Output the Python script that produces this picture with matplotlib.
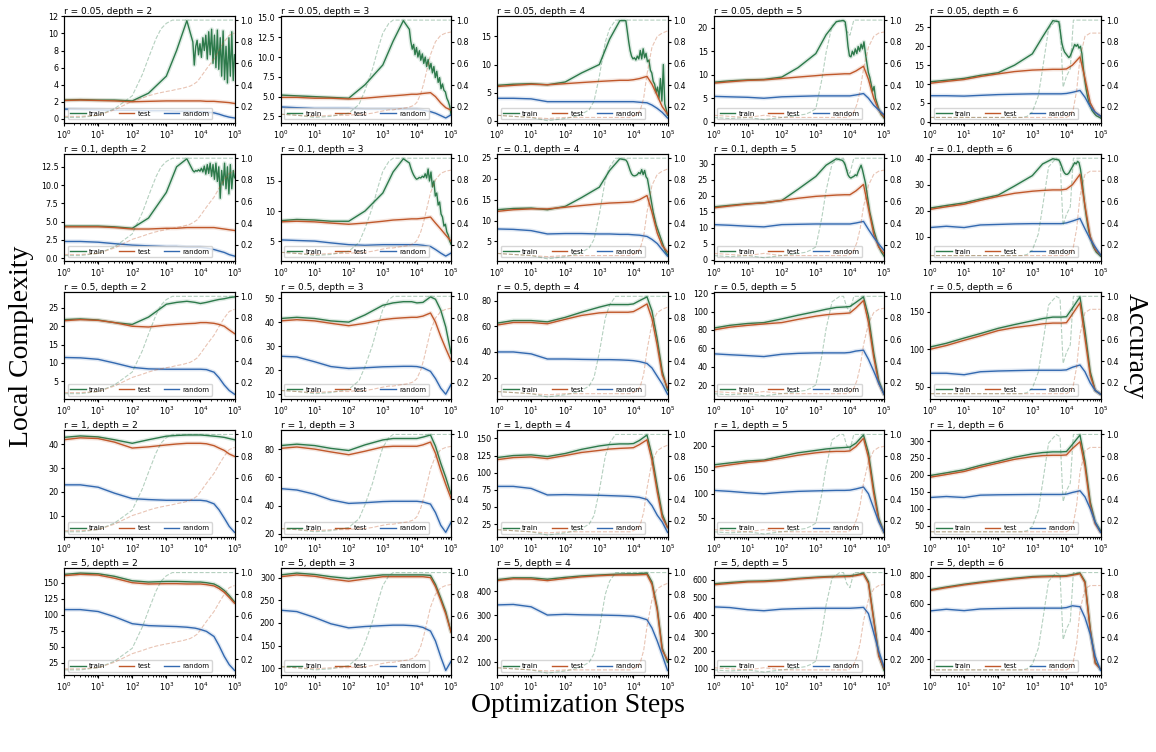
import matplotlib
matplotlib.use('Agg')
import matplotlib.pyplot as plt
from matplotlib.ticker import MultipleLocator

# optimization steps where the local complexity curves are sampled
STEPS = [1, 3, 10, 30, 100, 300, 1000, 2000, 4000, 7000, 10000, 15000,
         25000, 35000, 50000, 70000, 100000]
# denser steps for the noisy tail of the train curve (small r)
TAIL_STEPS = [6000, 6600, 7300, 8000, 8800, 9700, 10700, 11800, 13000, 14400,
              15900, 17500, 19300, 21300, 23400, 25800, 28500, 31400, 34600,
              38100, 42000, 46300, 51000, 56300, 62000, 68400, 75400, 83100,
              91600, 100000]
# steps for the accuracy curves
ACC_STEPS = [1, 3, 10, 30, 100, 200, 300, 500, 700, 1000, 1500, 2000, 3000,
             5000, 6500, 8000, 10000, 13000, 16000, 20000, 25000, 35000,
             50000, 70000, 100000]

R_LABELS = ['0.05', '0.1', '0.5', '1', '5']
DEPTHS = [2, 3, 4, 5, 6]

# left axis tick spacing, one row per r, one entry per depth
Y_TICK_STEP = [
    [2, 2.5, 5, 5, 5],
    [2.5, 5, 5, 5, 10],
    [5, 10, 20, 20, 50],
    [10, 20, 25, 50, 50],
    [25, 50, 100, 100, 200],
]

# ---- r = 0.05 (one list per depth 2..6)
TRAIN_R005 = [
    [2.2, 2.25, 2.2, 2.2, 2.1, 3.0, 5.0, 8.0, 11.5, 8.5, 8.5, 8.5, 8.0, 8.0, 7.5, 7.5, 7.5],
    [5.2, 5.1, 5.0, 4.9, 4.8, 6.5, 9.0, 12.0, 14.6, 12.0, 10.5, 10.0, 9.0, 8.5, 7.5, 6.0, 2.8],
    [6.3, 6.5, 6.6, 6.4, 6.9, 8.5, 10.0, 14.5, 17.8, 14.0, 11.5, 11.5, 11.0, 8.5, 5.5, 4.0, 1.0],
    [8.4, 8.7, 8.9, 9.0, 9.5, 11.5, 14.5, 18.5, 21.3, 21.0, 14.0, 15.0, 16.5, 10.5, 6.5, 3.0, 0.8],
    [10.6, 11.0, 11.5, 12.3, 13.0, 15.0, 18.0, 22.5, 26.8, 20.0, 17.5, 19.5, 20.0, 11.0, 4.0, 2.0, 1.0],
]
TEST_R005 = [
    [2.15, 2.2, 2.15, 2.1, 2.0, 2.05, 2.1, 2.1, 2.1, 2.1, 2.1, 2.05, 2.05, 2.0, 1.95, 1.9, 1.8],
    [4.9, 4.9, 4.8, 4.8, 4.7, 4.8, 5.0, 5.1, 5.2, 5.3, 5.3, 5.4, 5.5, 5.0, 4.2, 3.6, 3.3],
    [6.1, 6.3, 6.5, 6.4, 6.6, 6.8, 7.0, 7.1, 7.2, 7.2, 7.3, 7.5, 7.9, 6.5, 4.5, 2.5, 1.2],
    [8.2, 8.5, 8.8, 8.9, 9.2, 9.5, 9.8, 10.0, 10.1, 10.2, 10.2, 10.8, 11.8, 9.0, 5.0, 2.5, 1.0],
    [10.2, 10.7, 11.2, 12.0, 12.7, 13.3, 13.7, 13.8, 13.9, 13.9, 14.0, 15.0, 17.2, 11.5, 5.0, 2.5, 1.5],
]
RANDOM_R005 = [
    [1.15, 1.1, 1.05, 1.0, 1.0, 0.95, 0.95, 0.9, 0.9, 0.85, 0.85, 0.8, 0.7, 0.55, 0.35, 0.2, 0.1],
    [3.7, 3.6, 3.5, 3.5, 3.5, 3.4, 3.4, 3.4, 3.4, 3.4, 3.4, 3.3, 3.1, 2.9, 2.6, 2.3, 2.7],
    [4.0, 4.0, 3.9, 3.4, 3.4, 3.4, 3.4, 3.4, 3.4, 3.4, 3.4, 3.3, 3.2, 2.8, 2.2, 1.5, 0.5],
    [5.4, 5.3, 5.2, 5.0, 5.3, 5.4, 5.5, 5.5, 5.5, 5.5, 5.5, 5.7, 6.0, 5.0, 3.5, 2.5, 1.5],
    [6.9, 6.9, 6.8, 7.0, 7.2, 7.3, 7.4, 7.4, 7.4, 7.4, 7.5, 7.8, 8.3, 6.5, 4.0, 2.5, 1.5],
]
TAIL_R005 = [
    [9.0, 6.3, 8.5, 9.2, 7.5, 8.8, 7.2, 9.5, 8.0, 9.8, 7.0, 10.2, 7.5, 10.5, 6.5,
     9.8, 6.0, 10.4, 5.8, 9.5, 5.0, 10.3, 4.6, 8.5, 4.2, 9.5, 5.0, 10.2, 4.5, 7.5],
    [13.5, 12.0, 11.0, 11.6, 10.3, 11.2, 10.0, 10.8, 9.6, 10.4, 9.2, 10.0, 8.8, 9.7, 8.5,
     9.2, 8.0, 8.8, 7.4, 8.2, 6.8, 7.4, 6.0, 6.6, 5.8, 5.6, 4.8, 4.4, 3.8, 2.8],
    [17.8, 16.0, 14.0, 12.5, 11.5, 11.0, 11.2, 10.8, 11.5, 11.0, 12.5, 11.0, 12.8, 11.2, 12.0,
     10.5, 10.8, 9.0, 8.5, 7.0, 6.5, 5.0, 6.0, 4.0, 7.5, 3.5, 10.0, 3.0, 2.0, 1.0],
    [21.5, 21.5, 21.2, 19.0, 16.0, 14.0, 13.8, 15.0, 14.2, 15.5, 14.5, 16.0, 15.0, 16.5, 15.5,
     17.0, 14.5, 12.5, 10.5, 9.5, 8.0, 6.5, 7.5, 5.0, 4.0, 3.0, 2.2, 1.5, 1.2, 0.8],
    [26.5, 24.0, 21.0, 19.5, 18.5, 18.0, 17.5, 17.0, 17.5, 18.5, 19.5, 20.5, 20.0, 20.5, 19.5,
     20.0, 18.0, 14.0, 11.0, 8.5, 6.5, 5.0, 4.0, 3.0, 2.5, 2.0, 1.6, 1.4, 1.2, 1.0],
]

# ---- r = 0.1
TRAIN_R01 = [
    [4.4, 4.4, 4.4, 4.3, 4.1, 5.5, 9.0, 12.5, 13.6, 12.0, 12.0, 12.0, 12.0, 11.5, 11.0, 11.0, 11.0],
    [8.4, 8.6, 8.5, 8.3, 8.3, 10.0, 13.0, 16.5, 18.7, 16.5, 15.5, 15.5, 16.5, 14.0, 11.0, 7.5, 4.5],
    [12.6, 12.9, 13.0, 12.6, 13.4, 15.5, 18.0, 22.0, 24.8, 22.5, 20.8, 21.5, 20.5, 15.0, 9.0, 5.0, 2.0],
    [16.5, 17.0, 17.5, 17.8, 18.5, 22.0, 26.0, 29.5, 31.5, 28.0, 25.8, 27.0, 27.0, 18.0, 9.0, 4.0, 1.2],
    [21.0, 22.0, 23.0, 24.5, 26.0, 29.5, 33.5, 38.0, 40.0, 36.0, 34.0, 37.5, 37.5, 22.0, 10.0, 5.0, 2.5],
]
TEST_R01 = [
    [4.3, 4.3, 4.3, 4.2, 4.0, 4.0, 4.1, 4.1, 4.2, 4.2, 4.2, 4.2, 4.2, 4.1, 4.0, 3.9, 3.8],
    [8.2, 8.3, 8.2, 8.0, 7.8, 8.0, 8.3, 8.5, 8.6, 8.7, 8.7, 8.8, 9.0, 8.0, 7.0, 6.0, 5.0],
    [12.2, 12.6, 12.8, 12.8, 13.2, 13.6, 14.0, 14.2, 14.3, 14.4, 14.5, 15.0, 16.0, 12.0, 7.0, 4.0, 2.5],
    [16.2, 16.8, 17.4, 17.8, 18.5, 19.2, 19.8, 20.0, 20.2, 20.3, 20.3, 21.5, 23.5, 16.0, 8.0, 4.0, 2.0],
    [20.5, 21.5, 22.5, 24.0, 25.5, 26.7, 27.5, 27.8, 28.0, 28.0, 28.3, 30.0, 34.0, 22.0, 10.0, 5.0, 3.0],
]
RANDOM_R01 = [
    [2.3, 2.3, 2.2, 2.0, 1.8, 1.7, 1.6, 1.6, 1.5, 1.5, 1.5, 1.4, 1.2, 1.0, 0.8, 0.5, 0.3],
    [5.2, 5.1, 5.0, 4.7, 4.4, 4.3, 4.4, 4.4, 4.4, 4.4, 4.4, 4.3, 4.1, 3.6, 3.0, 2.5, 3.0],
    [8.0, 7.9, 7.6, 6.8, 6.9, 6.9, 6.8, 6.8, 6.7, 6.7, 6.6, 6.5, 6.2, 5.5, 4.5, 3.0, 1.5],
    [11.0, 10.8, 10.5, 10.3, 11.0, 11.1, 11.2, 11.2, 11.2, 11.2, 11.2, 11.5, 12.0, 9.5, 7.0, 5.0, 3.0],
    [13.5, 14.0, 13.5, 14.5, 14.7, 14.9, 15.0, 15.0, 15.0, 15.0, 15.3, 16.0, 17.0, 13.0, 9.0, 6.0, 3.0],
]
TAIL_R01 = [
    [12.0, 11.8, 12.0, 11.9, 12.1, 11.9, 12.3, 11.8, 12.6, 11.5, 12.8, 11.6, 13.0, 11.2, 12.8,
     10.8, 13.0, 10.5, 12.5, 8.2, 12.0, 10.0, 13.0, 9.5, 12.5, 8.8, 12.8, 9.5, 12.0, 11.0],
    [18.0, 17.2, 16.5, 16.0, 15.6, 15.3, 15.4, 15.6, 15.5, 15.8, 15.6, 16.2, 15.5, 17.0, 15.0,
     16.5, 14.0, 15.0, 12.5, 13.0, 11.0, 11.5, 9.5, 9.0, 7.5, 7.8, 6.5, 6.0, 5.0, 4.5],
    [24.5, 24.0, 23.0, 22.0, 21.2, 20.8, 20.7, 20.8, 21.0, 21.5, 21.2, 22.2, 21.0, 22.0, 20.5,
     20.0, 18.0, 16.0, 14.0, 12.0, 10.5, 9.0, 8.0, 7.0, 6.0, 5.0, 4.0, 3.0, 2.3, 1.8],
    [31.0, 30.5, 29.5, 28.0, 26.5, 25.8, 25.5, 25.8, 26.0, 26.5, 26.2, 27.5, 28.5, 29.5, 28.0,
     26.0, 24.0, 21.0, 18.0, 15.0, 13.0, 11.0, 9.0, 7.5, 6.0, 4.5, 3.5, 2.5, 1.8, 1.2],
    [39.5, 38.5, 37.0, 35.5, 34.5, 34.0, 34.0, 34.5, 35.5, 36.5, 37.5, 38.5, 38.0, 39.0, 38.5,
     36.0, 32.0, 27.0, 22.0, 18.0, 14.5, 11.5, 9.5, 7.5, 6.0, 5.0, 4.0, 3.5, 3.0, 2.5],
]

# ---- r = 0.5
TRAIN_R05 = [
    [21.8, 22.0, 21.7, 21.0, 20.5, 22.5, 26.0, 26.5, 26.8, 26.5, 26.2, 26.5, 27.0, 27.3, 27.5, 27.8, 28.0],
    [41.5, 42.0, 41.5, 40.5, 40.0, 43.0, 47.0, 48.0, 48.5, 48.5, 48.0, 48.2, 50.5, 49.5, 45.0, 38.0, 27.0],
    [62.5, 64.5, 64.5, 63.5, 67.0, 71.0, 75.0, 77.0, 77.0, 77.0, 77.5, 80.0, 83.0, 72.0, 50.0, 25.0, 10.0],
    [82.0, 85.0, 87.0, 88.0, 92.0, 96.0, 100.0, 102.5, 104.5, 105.0, 105.5, 110.0, 116.0, 95.0, 55.0, 25.0, 10.0],
    [103.0, 108.0, 115.0, 121.0, 128.0, 133.0, 138.0, 141.0, 143.0, 143.0, 143.5, 155.0, 170.0, 125.0, 70.0, 45.0, 40.0],
]
TEST_R05 = [
    [21.5, 21.8, 21.6, 21.0, 20.0, 19.8, 20.3, 20.5, 20.7, 20.8, 21.0, 21.0, 20.8, 20.5, 20.0, 19.0, 18.0],
    [40.5, 41.0, 40.5, 39.5, 38.5, 39.5, 41.0, 41.5, 41.8, 42.0, 42.0, 42.5, 43.8, 40.0, 34.0, 29.0, 24.0],
    [61.0, 63.0, 63.0, 62.0, 65.5, 68.5, 70.5, 71.0, 71.0, 71.0, 71.5, 74.0, 77.5, 66.0, 45.0, 22.0, 12.0],
    [80.0, 83.0, 85.0, 86.5, 88.0, 91.5, 95.0, 96.5, 97.5, 98.0, 98.5, 104.0, 112.0, 88.0, 50.0, 22.0, 10.0],
    [100.0, 105.0, 112.0, 118.0, 125.0, 129.0, 132.0, 134.0, 135.0, 135.0, 135.5, 147.0, 162.0, 115.0, 65.0, 45.0, 40.0],
]
RANDOM_R05 = [
    [11.5, 11.4, 11.0, 10.0, 8.8, 8.4, 8.3, 8.3, 8.3, 8.3, 8.3, 8.2, 7.5, 6.0, 4.0, 2.5, 1.5],
    [25.8, 25.5, 23.5, 21.5, 20.7, 21.0, 21.4, 21.5, 21.6, 21.6, 21.5, 21.0, 19.5, 16.5, 12.5, 10.0, 14.0],
    [40.0, 40.0, 38.5, 34.5, 34.5, 34.2, 34.0, 34.0, 33.8, 33.5, 33.2, 32.5, 31.0, 27.5, 21.0, 15.0, 7.0],
    [54.0, 53.0, 52.0, 51.0, 53.5, 54.5, 55.0, 55.0, 55.0, 55.0, 55.5, 57.0, 58.0, 48.0, 35.0, 22.0, 10.0],
    [68.0, 68.0, 66.0, 70.0, 71.0, 71.5, 72.0, 72.0, 72.0, 72.0, 72.5, 76.0, 79.0, 70.0, 55.0, 45.0, 40.0],
]

# ---- r = 1
TRAIN_R1 = [
    [43.0, 43.6, 43.2, 42.0, 40.5, 42.0, 43.5, 43.8, 44.0, 44.0, 44.0, 43.8, 43.5, 43.3, 43.0, 42.5, 42.0],
    [82.5, 83.5, 82.5, 80.5, 79.0, 83.0, 86.5, 87.5, 87.5, 87.5, 87.5, 88.5, 90.0, 82.0, 70.0, 60.0, 48.0],
    [122.0, 125.0, 126.0, 123.5, 128.0, 134.0, 139.0, 141.0, 142.0, 142.0, 142.5, 147.0, 155.0, 125.0, 80.0, 40.0, 20.0],
    [160.0, 164.0, 168.0, 170.0, 178.0, 185.0, 190.0, 193.0, 195.0, 196.0, 197.0, 205.0, 222.0, 185.0, 110.0, 50.0, 20.0],
    [198.0, 206.0, 215.0, 228.0, 240.0, 252.0, 262.0, 266.0, 268.0, 268.0, 269.0, 290.0, 318.0, 240.0, 120.0, 60.0, 35.0],
]
TEST_R1 = [
    [42.0, 42.8, 42.5, 41.0, 38.5, 39.0, 39.8, 40.2, 40.5, 40.5, 40.5, 40.3, 39.5, 38.5, 37.5, 36.0, 35.0],
    [80.5, 81.5, 80.0, 78.0, 76.0, 78.5, 81.5, 82.0, 82.0, 82.0, 82.0, 83.0, 85.0, 77.0, 65.0, 55.0, 45.0],
    [119.0, 122.0, 123.0, 120.5, 125.0, 129.5, 132.5, 134.5, 135.5, 136.0, 136.5, 141.0, 148.0, 118.0, 72.0, 35.0, 20.0],
    [155.0, 160.0, 165.0, 168.0, 174.0, 180.0, 185.0, 187.0, 188.0, 188.0, 189.0, 198.0, 215.0, 175.0, 100.0, 45.0, 20.0],
    [193.0, 201.0, 210.0, 223.0, 235.0, 246.0, 254.0, 257.0, 258.0, 258.0, 259.0, 278.0, 298.0, 225.0, 110.0, 55.0, 30.0],
]
RANDOM_R1 = [
    [23.0, 23.0, 22.0, 19.5, 17.2, 16.8, 16.5, 16.5, 16.5, 16.5, 16.5, 16.2, 15.0, 12.5, 9.0, 5.5, 3.0],
    [52.0, 51.0, 48.0, 44.0, 41.5, 42.0, 42.8, 43.0, 43.0, 43.0, 43.0, 42.5, 41.0, 35.0, 26.0, 21.0, 28.0],
    [80.0, 80.0, 77.0, 67.5, 68.0, 67.5, 67.0, 66.5, 66.0, 65.5, 65.0, 64.0, 61.0, 52.0, 38.0, 28.0, 13.0],
    [107.0, 105.0, 102.0, 100.0, 103.0, 105.0, 106.0, 106.5, 107.0, 107.0, 107.5, 110.0, 114.0, 100.0, 70.0, 42.0, 20.0],
    [133.0, 136.0, 133.0, 140.0, 141.0, 141.5, 142.0, 142.0, 142.0, 142.0, 143.0, 148.0, 153.0, 135.0, 100.0, 60.0, 30.0],
]

# ---- r = 5
TRAIN_R5 = [
    [163.0, 165.0, 164.0, 160.0, 153.0, 151.0, 152.0, 152.0, 151.5, 151.0, 151.0, 150.0, 148.0, 144.0, 138.0, 130.0, 120.0],
    [306.0, 310.0, 307.0, 302.0, 298.0, 302.0, 306.0, 306.0, 306.0, 306.0, 306.0, 306.0, 305.0, 285.0, 255.0, 225.0, 180.0],
    [450.0, 458.0, 458.0, 452.0, 460.0, 466.0, 470.0, 472.0, 474.0, 475.0, 475.0, 476.0, 478.0, 440.0, 330.0, 160.0, 100.0],
    [578.0, 585.0, 592.0, 594.0, 600.0, 608.0, 615.0, 618.0, 620.0, 622.0, 623.0, 628.0, 638.0, 590.0, 380.0, 180.0, 90.0],
    [700.0, 720.0, 740.0, 755.0, 770.0, 783.0, 795.0, 798.0, 800.0, 800.0, 802.0, 810.0, 820.0, 760.0, 420.0, 180.0, 130.0],
]
TEST_R5 = [
    [161.0, 163.0, 162.0, 157.0, 150.0, 148.0, 148.5, 148.5, 148.0, 148.0, 148.0, 147.0, 145.0, 141.0, 135.0, 127.0, 118.0],
    [302.0, 306.0, 303.0, 297.0, 292.0, 297.0, 302.0, 302.0, 302.0, 302.0, 302.0, 302.0, 300.0, 280.0, 250.0, 220.0, 180.0],
    [446.0, 454.0, 453.0, 446.0, 455.0, 462.0, 467.0, 469.0, 470.0, 470.0, 470.0, 471.0, 472.0, 430.0, 320.0, 150.0, 110.0],
    [572.0, 580.0, 588.0, 590.0, 596.0, 605.0, 612.0, 615.0, 617.0, 618.0, 619.0, 624.0, 632.0, 580.0, 370.0, 170.0, 100.0],
    [695.0, 715.0, 735.0, 750.0, 765.0, 778.0, 790.0, 793.0, 795.0, 795.0, 797.0, 805.0, 815.0, 750.0, 410.0, 170.0, 130.0],
]
RANDOM_R5 = [
    [108.0, 108.0, 105.0, 97.0, 86.0, 83.0, 82.0, 81.5, 80.5, 79.0, 77.0, 74.0, 66.0, 52.0, 35.0, 22.0, 13.0],
    [228.0, 225.0, 212.0, 198.0, 189.0, 192.0, 194.0, 195.0, 195.0, 194.0, 193.0, 190.0, 182.0, 160.0, 125.0, 95.0, 115.0],
    [343.0, 345.0, 335.0, 300.0, 303.0, 301.0, 300.0, 299.0, 298.0, 296.0, 295.0, 290.0, 280.0, 245.0, 190.0, 130.0, 65.0],
    [448.0, 444.0, 432.0, 426.0, 435.0, 438.0, 440.0, 440.0, 440.0, 440.0, 440.0, 442.0, 445.0, 410.0, 300.0, 200.0, 110.0],
    [548.0, 560.0, 550.0, 562.0, 565.0, 567.0, 568.0, 568.0, 568.0, 568.0, 572.0, 585.0, 578.0, 500.0, 380.0, 220.0, 120.0],
]

# ---- accuracy, one curve per depth (nearly the same for every r)
ACC_TRAIN = [
    [0.10, 0.10, 0.12, 0.18, 0.30, 0.50, 0.65, 0.83, 0.92, 0.97, 1.0, 1.0, 1.0,
     1.0, 1.0, 1.0, 1.0, 1.0, 1.0, 1.0, 1.0, 1.0, 1.0, 1.0, 1.0],
    [0.13, 0.12, 0.10, 0.11, 0.14, 0.22, 0.35, 0.55, 0.72, 0.88, 0.97, 1.0, 1.0,
     1.0, 1.0, 1.0, 1.0, 1.0, 1.0, 1.0, 1.0, 1.0, 1.0, 1.0, 1.0],
    [0.12, 0.11, 0.10, 0.07, 0.09, 0.11, 0.13, 0.17, 0.25, 0.48, 0.80, 0.92, 1.0,
     1.0, 1.0, 1.0, 1.0, 1.0, 1.0, 1.0, 1.0, 1.0, 1.0, 1.0, 1.0],
    [0.10, 0.09, 0.10, 0.08, 0.10, 0.11, 0.12, 0.13, 0.15, 0.18, 0.45, 0.70, 0.95,
     1.0, 1.0, 0.90, 0.86, 1.0, 1.0, 1.0, 1.0, 1.0, 1.0, 1.0, 1.0],
    [0.10, 0.10, 0.10, 0.10, 0.10, 0.10, 0.10, 0.10, 0.11, 0.15, 0.30, 0.55, 0.92,
     1.0, 0.98, 0.38, 0.48, 0.55, 1.0, 1.0, 1.0, 1.0, 1.0, 1.0, 1.0],
]
ACC_TEST = [
    [0.11, 0.11, 0.12, 0.17, 0.25, 0.28, 0.30, 0.32, 0.33, 0.34, 0.35, 0.36, 0.37,
     0.39, 0.41, 0.43, 0.47, 0.52, 0.56, 0.60, 0.64, 0.72, 0.80, 0.86, 0.88],
    [0.13, 0.12, 0.11, 0.12, 0.12, 0.13, 0.13, 0.14, 0.15, 0.16, 0.17, 0.17, 0.18,
     0.19, 0.20, 0.21, 0.24, 0.32, 0.42, 0.55, 0.68, 0.80, 0.86, 0.88, 0.89],
    [0.12, 0.11, 0.10, 0.09, 0.10, 0.10, 0.10, 0.10, 0.10, 0.10, 0.10, 0.10, 0.10,
     0.10, 0.10, 0.10, 0.11, 0.13, 0.17, 0.28, 0.50, 0.75, 0.85, 0.88, 0.90],
    [0.12, 0.11, 0.10, 0.12, 0.10, 0.10, 0.10, 0.10, 0.10, 0.10, 0.10, 0.10, 0.10,
     0.10, 0.10, 0.10, 0.11, 0.15, 0.22, 0.35, 0.55, 0.75, 0.85, 0.88, 0.89],
    [0.10, 0.10, 0.10, 0.10, 0.10, 0.10, 0.10, 0.10, 0.10, 0.10, 0.10, 0.10, 0.10,
     0.10, 0.10, 0.10, 0.10, 0.12, 0.18, 0.35, 0.65, 0.85, 0.88, 0.88, 0.88],
]

TRAIN = [TRAIN_R005, TRAIN_R01, TRAIN_R05, TRAIN_R1, TRAIN_R5]
TEST = [TEST_R005, TEST_R01, TEST_R05, TEST_R1, TEST_R5]
RANDOM = [RANDOM_R005, RANDOM_R01, RANDOM_R05, RANDOM_R1, RANDOM_R5]
TAILS = {0: TAIL_R005, 1: TAIL_R01}

GREEN = '#2d7a4b'
ORANGE = '#c0582b'
BLUE = '#3369b0'

fig, axes = plt.subplots(5, 5, figsize=(11.56, 7.52), dpi=100)
fig.subplots_adjust(left=0.0554, right=0.952, top=0.979, bottom=0.102,
                    wspace=0.27, hspace=0.29)


def lc_line(ax, xs, ys, color, label):
    # soft band behind each curve
    ax.plot(xs, ys, color=color, lw=3.0, alpha=0.15, solid_capstyle='round')
    line, = ax.plot(xs, ys, color=color, lw=1.0, label=label)
    return line


for i in range(5):
    for j in range(5):
        ax = axes[i, j]
        if i in TAILS:
            n = sum(1 for s in STEPS if s < TAIL_STEPS[0])
            tx = STEPS[:n] + TAIL_STEPS
            ty = TRAIN[i][j][:n] + TAILS[i][j]
        else:
            tx, ty = STEPS, TRAIN[i][j]
        h1 = lc_line(ax, tx, ty, GREEN, 'train')
        h2 = lc_line(ax, STEPS, TEST[i][j], ORANGE, 'test')
        h3 = lc_line(ax, STEPS, RANDOM[i][j], BLUE, 'random')
        ax.set_xscale('log')
        ax.set_xlim(1, 1e5)
        ax.set_xticks([1, 10, 100, 1e3, 1e4, 1e5])
        ax.yaxis.set_major_locator(MultipleLocator(Y_TICK_STEP[i][j]))
        ax.tick_params(labelsize=5.8, length=2.5, pad=1.5)
        ax.tick_params(which='minor', length=1.5)
        ax.set_title(f'r = {R_LABELS[i]}, depth = {DEPTHS[j]}', loc='left',
                     fontsize=6.5, pad=1.5)
        ax.legend(handles=[h1, h2, h3], loc='lower left', ncol=3, fontsize=5,
                  handlelength=2.2, columnspacing=1.9, borderpad=0.4,
                  handletextpad=0.5)

        ax2 = ax.twinx()
        ax2.plot(ACC_STEPS, ACC_TRAIN[j], '--', color=GREEN, alpha=0.35, lw=0.8)
        ax2.plot(ACC_STEPS, ACC_TEST[j], '--', color=ORANGE, alpha=0.35, lw=0.8)
        ax2.set_ylim(0.05, 1.04)
        ax2.set_yticks([0.2, 0.4, 0.6, 0.8, 1.0])
        ax2.tick_params(labelsize=5.8, length=2.5, pad=1.5)
        ax2.set_xlim(1, 1e5)

serif = ['Liberation Serif', 'DejaVu Serif']
fig.text(0.019, 0.54, 'Local Complexity', rotation=90, va='center', ha='center',
         fontsize=20, family=serif)
fig.text(0.982, 0.54, 'Accuracy', rotation=270, va='center', ha='center',
         fontsize=20, family=serif)
fig.text(0.5, 0.062, 'Optimization Steps', va='center', ha='center',
         fontsize=20, family=serif)

fig.savefig('out.png', dpi=100)
